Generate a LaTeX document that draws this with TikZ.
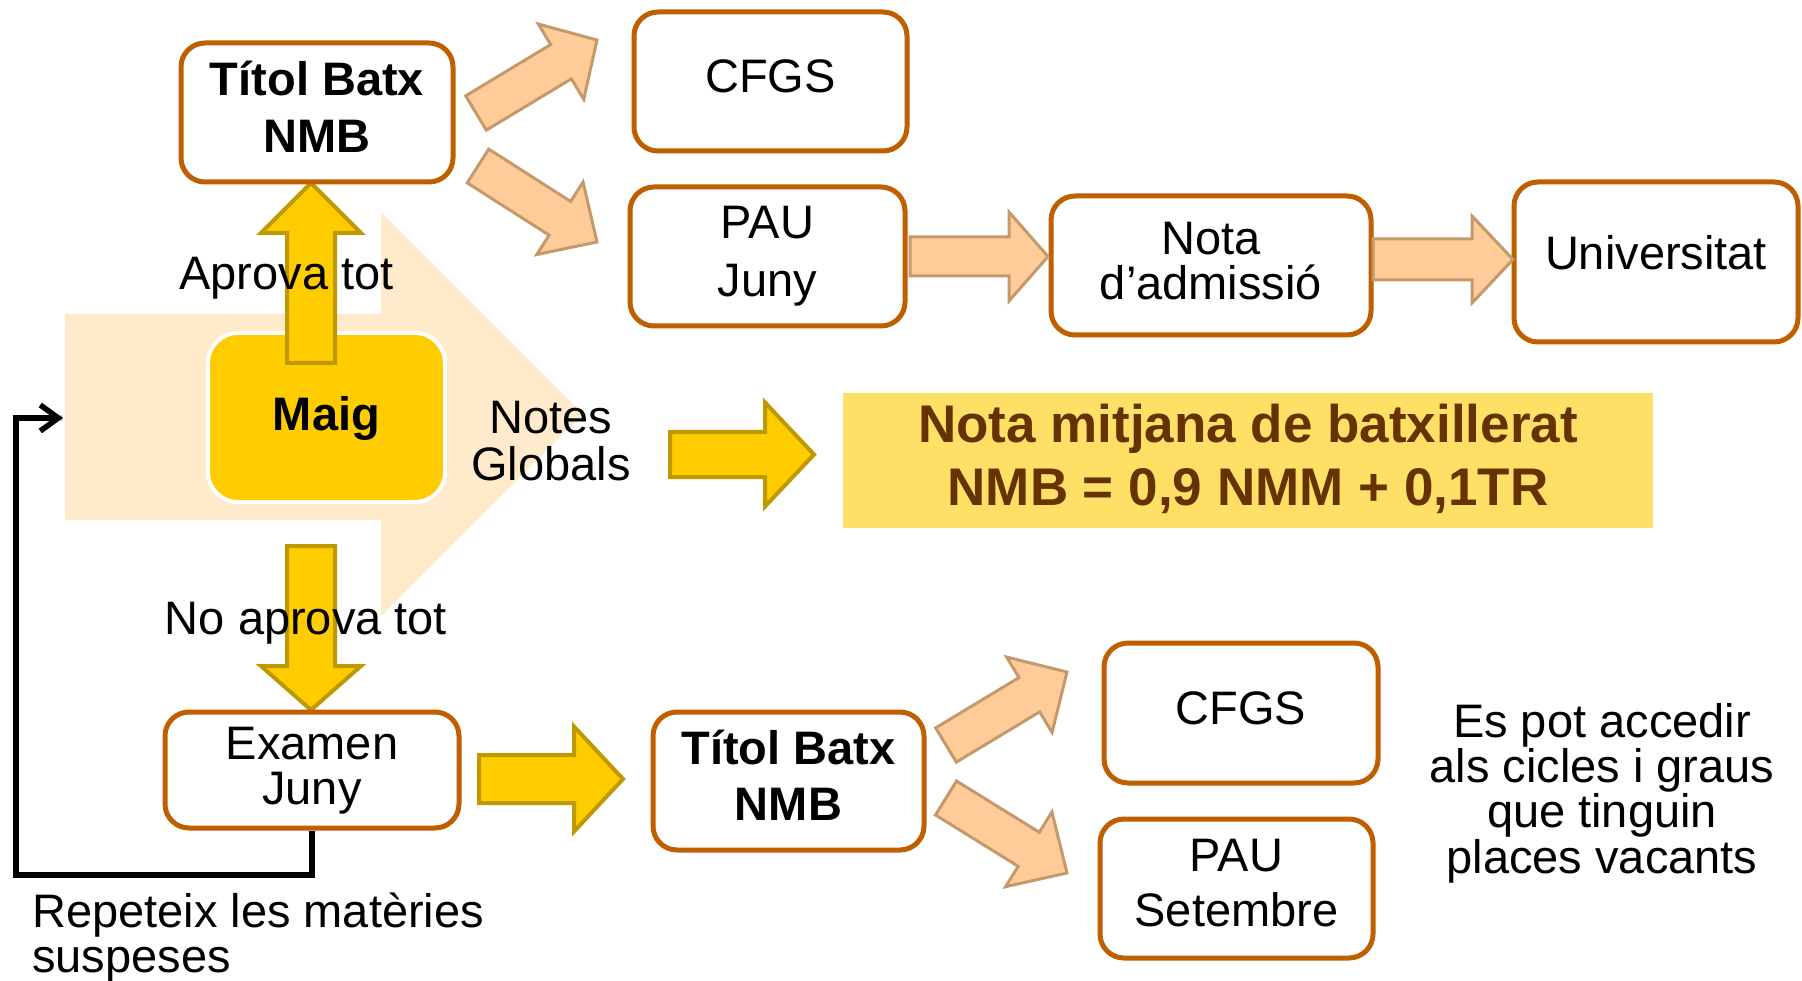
\documentclass[tikz,border=0pt]{standalone}
\usepackage{fontspec}
\setmainfont{Liberation Sans}
\usetikzlibrary{calc,arrows.meta}
\definecolor{boxc}{HTML}{C05F00}
\definecolor{peach}{HTML}{FFCC99}
\definecolor{peachd}{HTML}{C49A6C}
\definecolor{gold}{HTML}{FFCC00}
\definecolor{goldd}{HTML}{BF9900}
\definecolor{bgarr}{HTML}{FFEBCC}
\definecolor{nmbfill}{HTML}{FFE066}
\definecolor{brownt}{HTML}{663300}
\newcommand\blockarr[6]{%
  \coordinate (bhx) at ($(#2)!#5!(#1)$);
  \draw[#6] ($(#1)!#3!90:(#2)$) -- ($(bhx)!#3!90:(#2)$) -- ($(bhx)!#4!90:(#2)$) -- (#2)
    -- ($(bhx)!#4!-90:(#2)$) -- ($(bhx)!#3!-90:(#2)$) -- ($(#1)!#3!-90:(#2)$) -- cycle;}
\tikzset{
  box/.style={draw=boxc, line width=5pt, rounded corners=24pt, fill=white, align=center,
    inner sep=0pt, font=\fontsize{47}{57}\selectfont, text height=33pt, text depth=10pt},
  txt/.style={inner sep=0pt, font=\fontsize{47}{47}\selectfont},
  peacharr/.style={fill=peach, draw=peachd, line width=3pt, line join=miter},
  goldarr/.style={fill=gold, draw=goldd, line width=4pt, line join=miter},
  fbline/.style={line width=5.5pt, black},
}
\begin{document}
\begin{tikzpicture}[x=1pt,y=-1pt]
\useasboundingbox (0,0) rectangle (1802,981);
\fill[white] (0,0) rectangle (1802,981);
% background big arrow
\fill[bgarr] (65,314) -- (381,314) -- (381,212) -- (583,414) -- (381,616) -- (381,520) -- (65,520) -- cycle;
\coordinate (bgin) at (63,418);
% Maig
\node[draw=white, line width=4pt, fill=gold, rounded corners=30pt, minimum width=237pt, minimum height=169pt,
  inner sep=0pt, font=\fontsize{47}{47}\selectfont\bfseries, text height=33pt, text depth=6pt] (maig) at (326.5,417.5) {Maig};
% yellow vertical arrows
\coordinate (upS) at (311,363); \coordinate (upT) at (311,183);
\blockarr{upS}{upT}{24pt}{50pt}{50pt}{goldarr}
\coordinate (dnS) at (311,546); \coordinate (dnT) at (311,710);
\blockarr{dnS}{dnT}{24pt}{50pt}{44pt}{goldarr}
\node[txt, anchor=base] (aprova) at (286.5,290) {Aprova tot};
\node[txt, anchor=base] (noaprova) at (306,634) {No aprova tot};
\node[txt, anchor=base, align=center] (notesg) at (551,480) {Notes\\Globals};
% NMB box
\node[fill=nmbfill, minimum width=810pt, minimum height=135pt, inner sep=0pt, align=center,
  font=\fontsize{53}{63}\selectfont\bfseries, text=brownt, text height=101pt, text depth=11pt] (nmbbox) at (1248,460.5)
  {Nota mitjana de batxillerat\\NMB = 0,9 NMM + 0,1TR};
\coordinate (ngS) at (670,454.5); \coordinate (ngT) at (814,454.5);
\blockarr{ngS}{ngT}{22.5pt}{52pt}{49pt}{goldarr}
% boxes
\node[box, minimum width=272pt, minimum height=139pt, font=\fontsize{47}{57}\selectfont\bfseries, text height=90pt] (titA) at (317,112.5) {Títol Batx\\NMB};
\node[box, minimum width=273pt, minimum height=139pt] (cfgsA) at (770.5,81.5) {CFGS};
\node[box, minimum width=275pt, minimum height=139pt, font=\fontsize{47}{58}\selectfont, text height=91pt] (pauA) at (767.5,256.5) {PAU\\Juny};
\node[box, minimum width=320pt, minimum height=139pt, font=\fontsize{47}{45}\selectfont, text height=78pt] (nota) at (1211,265.5) {Nota\\d’admissió};
\node[box, minimum width=284pt, minimum height=160pt, text depth=17pt] (univ) at (1656,262) {Universitat};
\node[box, minimum width=294pt, minimum height=116pt, font=\fontsize{47}{45}\selectfont, text height=78pt] (examen) at (312,770) {Examen\\Juny};
\node[box, minimum width=271pt, minimum height=138pt, font=\fontsize{47}{56}\selectfont\bfseries, text height=89pt] (titB) at (788.5,781) {Títol Batx\\NMB};
\node[box, minimum width=274pt, minimum height=140pt] (cfgsB) at (1241,713) {CFGS};
\node[box, minimum width=273pt, minimum height=139pt, font=\fontsize{47}{55}\selectfont, text height=88pt, text depth=12pt] (pauB) at (1236.5,888.5) {PAU\\Setembre};
% yellow exam arrow
\coordinate (exS) at (479,779); \coordinate (exT) at (623,779);
\blockarr{exS}{exT}{24pt}{52.5pt}{49pt}{goldarr}
% peach arrows
\coordinate (a1S) at (476,113); \coordinate (a1T) at (597,40);
\blockarr{a1S}{a1T}{20pt}{44pt}{42pt}{peacharr}
\coordinate (a2S) at (478,166); \coordinate (a2T) at (597,242);
\blockarr{a2S}{a2T}{20pt}{43pt}{44pt}{peacharr}
\coordinate (a3S) at (910,256.5); \coordinate (a3T) at (1048,256.5);
\blockarr{a3S}{a3T}{19.5pt}{44.5pt}{39pt}{peacharr}
\coordinate (a4S) at (1373,259.5); \coordinate (a4T) at (1513,259.5);
\blockarr{a4S}{a4T}{20.5pt}{43.5pt}{41pt}{peacharr}
\coordinate (b1S) at (946,745); \coordinate (b1T) at (1067,672);
\blockarr{b1S}{b1T}{20pt}{44pt}{44pt}{peacharr}
\coordinate (b2S) at (946,798); \coordinate (b2T) at (1067,873);
\blockarr{b2S}{b2T}{20pt}{44pt}{45pt}{peacharr}
% feedback line
\coordinate (fbc) at (16,875);
\draw[line width=6pt, black!40, opacity=0.45, xshift=3pt, yshift=-4pt] (examen.south) |- (fbc) |- (bgin);
\draw[fbline, -{Straight Barb[length=18pt,width=26pt]}] (examen.south) |- (fbc) |- (bgin);
\node[txt, anchor=base west, align=left, font=\fontsize{47}{45}\selectfont] (repet) at (32,972) {Repeteix les matèries\\suspeses};
\node[txt, anchor=base, align=center, font=\fontsize{47}{45.3}\selectfont] (espot) at (1602,873) {Es pot accedir\\als cicles i graus\\que tinguin\\places vacants};
\end{tikzpicture}
\end{document}
